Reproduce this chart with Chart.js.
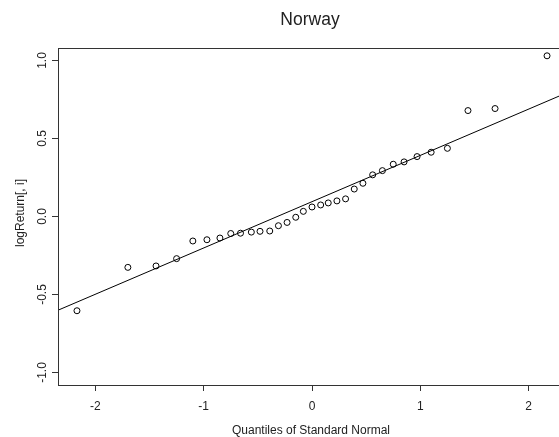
<!DOCTYPE html>
<html>
<head>
<meta charset="utf-8">
<script src="https://cdn.jsdelivr.net/npm/chart.js@4.4.1/dist/chart.umd.min.js"></script>
<style>
  html, body { margin: 0; padding: 0; background: #fff; }
  #wrap { width: 559px; height: 437px; overflow: hidden; }
</style>
</head>
<body>
<div id="wrap"><canvas id="qq" width="571" height="437"></canvas></div>
<script>
// qq plot values
const chartTitle = "Norway";
const xLabel = "Quantiles of Standard Normal";
const yLabel = "logReturn[, i]";

const quantiles = [-2.17, -1.70, -1.44, -1.25, -1.10, -0.97, -0.85, -0.75, -0.66, -0.56, -0.48,
  -0.39, -0.31, -0.23, -0.15, -0.08, 0.00, 0.08, 0.15, 0.23, 0.31, 0.39,
  0.47, 0.56, 0.65, 0.75, 0.85, 0.97, 1.10, 1.25, 1.44, 1.69, 2.17];
const logReturn = [-0.604, -0.326, -0.317, -0.270, -0.157, -0.149, -0.138, -0.109, -0.107, -0.100, -0.095,
  -0.093, -0.059, -0.038, -0.005, 0.033, 0.061, 0.074, 0.087, 0.100, 0.113, 0.176,
  0.213, 0.267, 0.294, 0.335, 0.350, 0.384, 0.412, 0.437, 0.679, 0.692, 1.030];

// reference line ends (qqline)
const lineX = [-2.4, 2.4];
const lineY = [-0.617, 0.807];

const xTicks = [-2, -1, 0, 1, 2];
const yTicks = [-1.0, -0.5, 0.0, 0.5, 1.0];

const font = "'Liberation Sans', Arial, Helvetica, sans-serif";
const axisColor = "#333";

// title, y labels, box
const rStyle = {
  id: "rStyle",
  afterDraw(chart) {
    const c = chart.ctx;
    const a = chart.chartArea;
    const ys = chart.scales.y;
    c.save();
    c.strokeStyle = axisColor;
    c.lineWidth = 1;
    c.strokeRect(Math.round(a.left) + 0.5, Math.round(a.top) + 0.5,
      Math.round(a.right - a.left), Math.round(a.bottom - a.top));

    c.fillStyle = "#222";
    c.textAlign = "center";
    c.textBaseline = "alphabetic";
    c.font = "17.5px " + font;
    c.fillText(chartTitle, (a.left + a.right) / 2 - 2, 25);

    c.font = "12px " + font;
    c.fillText(xLabel, (a.left + a.right) / 2 - 1, 434);

    // rotated y labels
    c.save();
    c.translate(24, 213);
    c.rotate(-Math.PI / 2);
    c.fillText(yLabel, 0, 0);
    c.restore();

    ys.ticks.forEach(t => {
      const py = ys.getPixelForValue(t.value);
      c.save();
      c.translate(46, py);
      c.rotate(-Math.PI / 2);
      c.fillText(t.value.toFixed(1), 0, 0);
      c.restore();
    });
    c.restore();
  }
};

new Chart(document.getElementById("qq"), {
  type: "scatter",
  data: {
    datasets: [
      {
        label: "sample",
        data: quantiles.map((q, i) => ({ x: q, y: logReturn[i] })),
        pointStyle: "circle",
        pointRadius: 3,
        pointBorderWidth: 1,
        borderColor: "#000",
        backgroundColor: "rgba(0,0,0,0)",
        showLine: false,
      },
      {
        type: "line",
        label: "qqline",
        data: lineX.map((x, i) => ({ x: x, y: lineY[i] })),
        borderColor: "#000",
        borderWidth: 1,
        pointRadius: 0,
        fill: false,
      },
    ],
  },
  options: {
    responsive: false,
    animation: false,
    layout: { padding: { top: 48, right: 1, left: 0, bottom: 0 } },
    plugins: {
      legend: { display: false },
      tooltip: { enabled: false },
      title: { display: false },
    },
    scales: {
      x: {
        type: "linear",
        min: -2.345,
        max: 2.345,
        afterBuildTicks: s => { s.ticks = xTicks.map(v => ({ value: v })); },
        afterFit: s => { s.height = 52; },
        grid: { drawOnChartArea: false, drawTicks: true, tickLength: 6, color: axisColor },
        border: { display: false },
        ticks: {
          padding: 8,
          color: "#222",
          font: { family: font, size: 12 },
          callback: v => String(v),
        },
      },
      y: {
        type: "linear",
        min: -1.08,
        max: 1.08,
        afterBuildTicks: s => { s.ticks = yTicks.map(v => ({ value: v })); },
        afterFit: s => { s.width = 58; },
        grid: { drawOnChartArea: false, drawTicks: true, tickLength: 6, color: axisColor },
        border: { display: false },
        ticks: { display: false },
      },
    },
  },
  plugins: [rStyle],
});
</script>
</body>
</html>
